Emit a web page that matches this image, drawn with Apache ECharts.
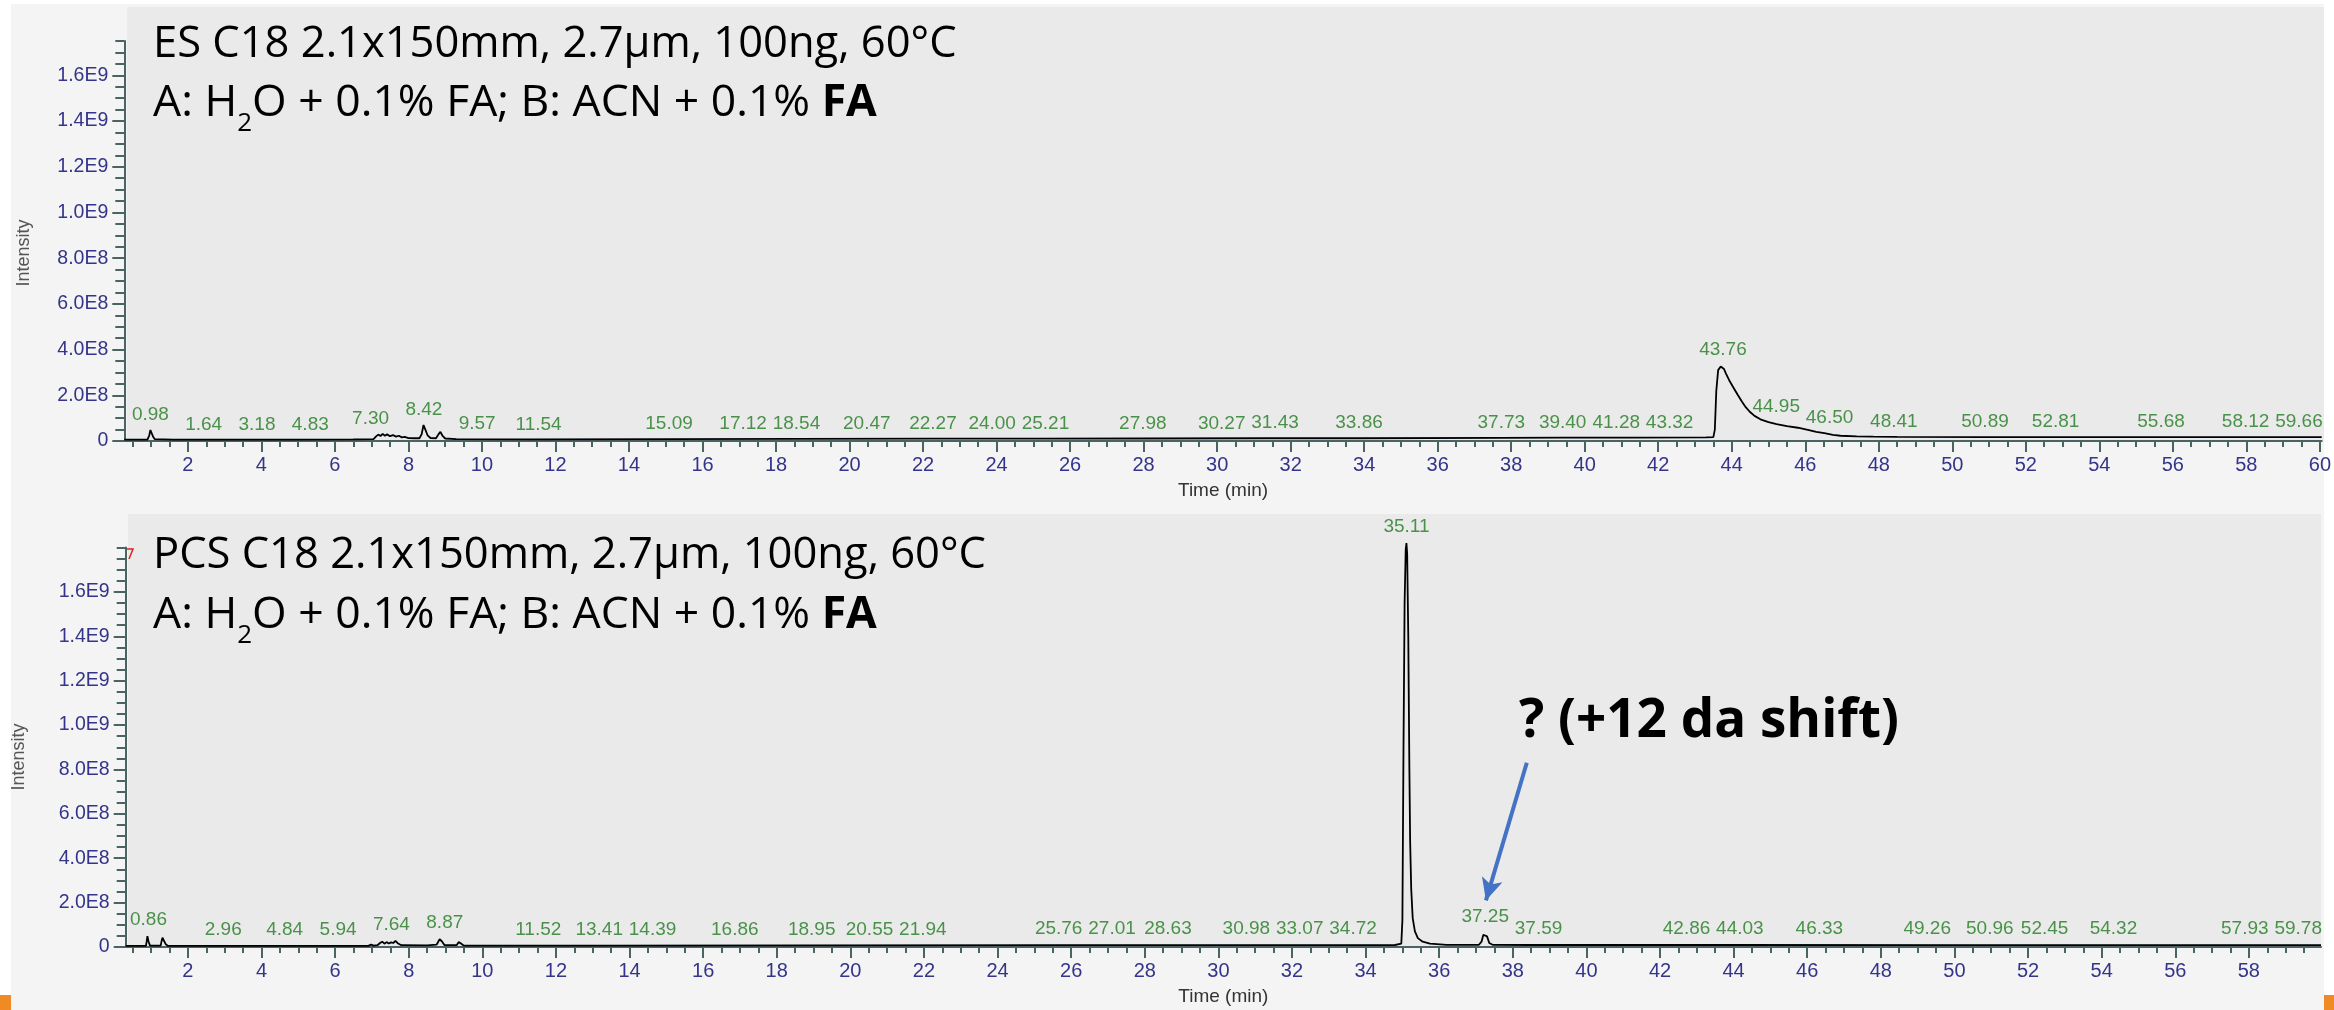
<!DOCTYPE html>
<html><head><meta charset="utf-8">
<script src="https://cdn.jsdelivr.net/npm/echarts@6/dist/echarts.min.js"></script>
<style>html,body{margin:0;padding:0;background:#fff;}#c{width:2334px;height:1010px;}</style>
</head><body><div id="c"></div>
<script>
// ---------- DATA ----------
// ES C18 trace: [time (min), intensity]
const esTrace = [
  [0.27,6e6],[0.9,6e6],[0.95,2.5e7],[0.98,4.8e7],[1.01,3.6e7],[1.05,2e7],[1.1,8e6],[1.6,6e6],[3.2,6e6],[4.8,6e6],
  [6.5,7e6],[7.05,8e6],[7.12,2e7],[7.18,2.8e7],[7.24,2.2e7],[7.3,3.1e7],[7.36,2.3e7],[7.42,2.9e7],[7.5,2.1e7],
  [7.58,2.6e7],[7.66,1.9e7],[7.74,2.3e7],[7.82,1.6e7],[7.9,1.8e7],[8.0,1.3e7],[8.15,1.2e7],[8.3,1.2e7],
  [8.36,3e7],[8.41,7e7],[8.46,5e7],[8.52,2.5e7],[8.6,1.3e7],[8.75,1.2e7],[8.82,3e7],[8.87,4e7],[8.93,2.2e7],
  [9.0,1.1e7],[9.3,8e6],[11.5,7e6],[15.1,8e6],[18.5,9e6],[22.3,1e7],[25.2,1e7],[28,1.1e7],[31.4,1.2e7],
  [33.9,1.2e7],[37.7,1.4e7],[39.4,1.5e7],[41.3,1.5e7],[43.3,1.6e7],[43.5,1.7e7],[43.54,5e7],[43.58,2.2e8],
  [43.63,3.1e8],[43.7,3.26e8],[43.74,3.32e8],[43.79,3.15e8],[43.84,2.96e8],[43.95,2.6e8],[44.06,2.3e8],
  [44.17,2.0e8],[44.28,1.72e8],[44.38,1.48e8],[44.49,1.28e8],[44.62,1.1e8],[44.78,9.5e7],[45.0,8.3e7],
  [45.22,7.4e7],[45.5,6.5e7],[45.8,5.8e7],[46.1,4.8e7],[46.3,4e7],[46.52,3.4e7],[46.75,2.7e7],[46.96,2.3e7],
  [47.4,2e7],[47.86,1.9e7],[48.5,1.8e7],[50.9,1.7e7],[55.7,1.7e7],[60.05,1.7e7]
];
// PCS C18 trace: [time (min), intensity]
const pcsTrace = [
  [0.31,5e6],[0.86,5e6],[0.88,2.5e7],[0.9,4.9e7],[0.93,2.5e7],[0.97,6e6],[1.26,6e6],[1.29,3e7],[1.31,4.2e7],
  [1.35,2.8e7],[1.4,1.2e7],[1.46,5e6],[3,5e6],[5.9,5e6],[6.9,5e6],[6.98,1.1e7],[7.04,6e6],[7.15,8e6],
  [7.22,1.8e7],[7.28,2.4e7],[7.34,1.5e7],[7.4,2.2e7],[7.46,1.6e7],[7.52,2.1e7],[7.58,1.8e7],[7.64,2.8e7],
  [7.7,1.7e7],[7.8,8e6],[8.5,7e6],[8.76,1.1e7],[8.84,3.5e7],[8.9,2.6e7],[8.97,9e6],[9.3,8e6],[9.36,2.2e7],
  [9.42,1.6e7],[9.5,6e6],[13.4,6e6],[18.9,7e6],[25.8,8e6],[31,8e6],[34.8,9e6],[34.97,1.5e7],[35.0,1.2e8],
  [35.03,9e8],[35.06,1.55e9],[35.09,1.79e9],[35.11,1.82e9],[35.13,1.77e9],[35.16,1.4e9],[35.19,8e8],
  [35.21,4.8e8],[35.24,2.6e8],[35.28,1.3e8],[35.34,7e7],[35.42,4e7],[35.55,2.4e7],[35.75,1.5e7],[36.2,1e7],
  [37.08,1e7],[37.15,2.4e7],[37.2,5.5e7],[37.25,6.3e7],[37.3,4.8e7],[37.36,1.8e7],[37.45,1e7],[38.5,9e6],
  [44,9e6],[50,8e6],[54.3,8e6],[59.96,8e6]
];
// peak retention-time labels
const esPeakRT = [0.98,1.64,3.18,4.83,7.30,8.42,9.57,11.54,15.09,17.12,18.54,20.47,22.27,24.00,25.21,27.98,
  30.27,31.43,33.86,37.73,39.40,41.28,43.32,43.76,44.95,46.50,48.41,50.89,52.81,55.68,58.12,59.66];
const pcsPeakRT = [0.86,2.96,4.84,5.94,7.64,8.87,11.52,13.41,14.39,16.86,18.95,20.55,21.94,25.76,27.01,28.63,
  30.98,33.07,34.72,35.11,37.25,37.59,42.86,44.03,46.33,49.26,50.96,52.45,54.32,57.93,59.78];
// axis ranges and tick labels
const esXRange = [0.27, 60.05];
const pcsXRange = [0.31, 59.96];
const esYMax = 1.75e9;
const pcsYMax = 1.8e9;
const esXTicks = [2,4,6,8,10,12,14,16,18,20,22,24,26,28,30,32,34,36,38,40,42,44,46,48,50,52,54,56,58,60];
const pcsXTicks = [2,4,6,8,10,12,14,16,18,20,22,24,26,28,30,32,34,36,38,40,42,44,46,48,50,52,54,56,58];
const yTicks = [0,2e8,4e8,6e8,8e8,1e9,1.2e9,1.4e9,1.6e9];
// annotation arrow (data coordinates on the PCS panel): from, to
const arrowFrom = [38.38, 8.3e8];
const arrowTo = [37.27, 2.1e8];

// ---------- helpers ----------
function minorTicks(lo, hi, step, majors) {
  const out = [];
  for (let v = Math.ceil(lo / step) * step; v <= hi + 1e-9; v += step) {
    const r = Math.round(v * 1000) / 1000;
    if (!majors.some(m => Math.abs(m - r) < 1e-6)) out.push(r);
  }
  return out;
}
function interp(trace, t) {
  for (let i = 0; i < trace.length - 1; i++) {
    const a = trace[i], b = trace[i + 1];
    if (t >= a[0] && t <= b[0]) return a[1] + (b[1] - a[1]) * (t - a[0]) / (b[0] - a[0]);
  }
  return trace[trace.length - 1][1];
}
function peakLabels(trace, rts, range) {
  const halfW = 0.62, sep = 1.45;
  const apex = rts.map(rt => {
    let m = interp(trace, rt);
    trace.forEach(p => { if (Math.abs(p[0] - rt) <= 0.08) m = Math.max(m, p[1]); });
    return m;
  });
  const xs = rts.slice();
  for (let it = 0; it < 400; it++) {
    let moved = false;
    for (let i = 0; i < xs.length - 1; i++) {
      const d = xs[i + 1] - xs[i];
      if (d < sep - 1e-6) {
        const need = sep - d, a = apex[i], b = apex[i + 1];
        if (a > 1.5 * b) xs[i + 1] += need;
        else if (b > 1.5 * a) xs[i] -= need;
        else { xs[i] -= need / 2; xs[i + 1] += need / 2; }
        moved = true;
      }
    }
    for (let i = 0; i < xs.length; i++) xs[i] = Math.min(Math.max(xs[i], range[0] + halfW), range[1] - halfW);
    if (!moved) break;
  }
  return rts.map((rt, i) => ({ name: rt.toFixed(2), value: [xs[i], apex[i]] }));
}
function sci(v) {
  if (v === 0) return '0';
  const e = Math.floor(Math.log10(v) + 1e-9);
  return (v / Math.pow(10, e)).toFixed(1) + 'E' + e;
}

// ---------- styles ----------
const AXIS_COL = '#4a6464';
const LABEL_COL = '#34348a';
const PEAK_COL = '#217a21';
const FONT = 'Liberation Sans, Arial, sans-serif';
const TITLE_FONT = 'Open Sans';

function xAxes(grid, range, ticks) {
  return [
    { gridIndex: grid, type: 'value', position: 'bottom', min: range[0], max: range[1],
      axisLine: { lineStyle: { color: AXIS_COL, width: 2 } },
      axisTick: { customValues: ticks, length: 11, lineStyle: { color: AXIS_COL, width: 2 } },
      axisLabel: { customValues: ticks, color: LABEL_COL, fontSize: 20, fontFamily: FONT, margin: 14 },
      splitLine: { show: false },
      name: 'Time (min)', nameLocation: 'middle', nameGap: 40,
      nameTextStyle: { color: '#333', fontSize: 19, fontFamily: FONT } },
    { gridIndex: grid, type: 'value', position: 'bottom', min: range[0], max: range[1],
      axisLine: { show: false },
      axisTick: { customValues: minorTicks(range[0], range[1], 0.5, ticks), length: 6, lineStyle: { color: AXIS_COL, width: 2 } },
      axisLabel: { show: false }, splitLine: { show: false } }
  ];
}
function yAxes(grid, max) {
  return [
    { gridIndex: grid, type: 'value', position: 'left', min: 0, max: max,
      axisLine: { show: true, lineStyle: { color: AXIS_COL, width: 2 } },
      axisTick: { show: true, customValues: yTicks, length: 12, lineStyle: { color: AXIS_COL, width: 2 } },
      axisLabel: { customValues: yTicks, color: LABEL_COL, fontSize: 19.5, fontFamily: FONT, margin: 16, formatter: sci },
      splitLine: { show: false } },
    { gridIndex: grid, type: 'value', position: 'left', min: 0, max: max,
      axisLine: { show: false },
      axisTick: { show: true, customValues: minorTicks(0, max, 5e7, yTicks), length: 9, lineStyle: { color: AXIS_COL, width: 2 } },
      axisLabel: { show: false }, splitLine: { show: false } }
  ];
}
function labelSeries(xi, yi, data, dist) {
  return { type: 'scatter', xAxisIndex: xi, yAxisIndex: yi, data: data, symbolSize: 1, silent: true,
    itemStyle: { color: 'rgba(0,0,0,0)' }, z: 5, clip: false,
    label: { show: true, position: 'top', distance: dist, formatter: '{b}', color: PEAK_COL,
      fontSize: 19, fontFamily: FONT } };
}

const titleRich = {
  a: { fontSize: 44.5, fontFamily: TITLE_FONT, fill: '#000', lineHeight: 68 },
  s: { fontSize: 26, fontFamily: TITLE_FONT, fill: '#000', lineHeight: 26, verticalAlign: 'bottom' },
  b: { fontSize: 44.5, fontFamily: TITLE_FONT, fontWeight: 'bold', fill: '#000', lineHeight: 68 }
};
const line2 = '{a|A: H}{s|2}{a|O + 0.1% FA; B: ACN + 0.1% }{b|FA}';

const chart = echarts.init(document.getElementById('c'), null, { renderer: 'canvas' });
chart.setOption({
  animation: false,
  backgroundColor: '#ffffff',
  grid: [
    { left: 124.3, top: 41, width: 2199.7, height: 400 },
    { left: 125.7, top: 547.5, width: 2195.3, height: 399.5 }
  ],
  xAxis: xAxes(0, esXRange, esXTicks).concat(xAxes(1, pcsXRange, pcsXTicks)),
  yAxis: yAxes(0, esYMax).concat(yAxes(1, pcsYMax)),
  graphic: [
    { type: 'rect', z: -10, silent: true, shape: { x: 11, y: 4, width: 2313, height: 1006 }, style: { fill: '#f4f4f4' } },
    { type: 'rect', z: -9, silent: true, shape: { x: 127, y: 7, width: 2197, height: 434 }, style: { fill: '#eaeaea' } },
    { type: 'rect', z: -9, silent: true, shape: { x: 128, y: 514, width: 2193, height: 433 }, style: { fill: '#eaeaea' } },
    { type: 'rect', silent: true, shape: { x: 0, y: 995, width: 11, height: 15 }, style: { fill: '#f08a24' } },
    { type: 'rect', silent: true, shape: { x: 2324, y: 995, width: 10, height: 15 }, style: { fill: '#f08a24' } },
    { type: 'polyline', silent: true, shape: { points: [[127, 549], [133, 549], [129, 559]] }, style: { stroke: '#e02020', lineWidth: 1.5, fill: null } },
    { type: 'text', silent: true, x: 24, y: 253, rotation: Math.PI / 2,
      style: { text: 'Intensity', fontSize: 18, fontFamily: FONT, fill: '#555', align: 'center', verticalAlign: 'middle' } },
    { type: 'text', silent: true, x: 19, y: 757, rotation: Math.PI / 2,
      style: { text: 'Intensity', fontSize: 18, fontFamily: FONT, fill: '#555', align: 'center', verticalAlign: 'middle' } },
    { type: 'text', silent: true, x: 153, y: 45,
      style: { text: 'ES C18 2.1x150mm, 2.7\u00b5m, 100ng, 60\u00b0C', fontSize: 43.5, fontFamily: TITLE_FONT, fill: '#000', verticalAlign: 'middle' } },
    { type: 'text', silent: true, x: 153, y: 103,
      style: { text: line2, rich: titleRich, verticalAlign: 'middle' } },
    { type: 'text', silent: true, x: 153, y: 556,
      style: { text: 'PCS C18 2.1x150mm, 2.7\u00b5m, 100ng, 60\u00b0C', fontSize: 43.5, fontFamily: TITLE_FONT, fill: '#000', verticalAlign: 'middle' } },
    { type: 'text', silent: true, x: 153, y: 615,
      style: { text: line2, rich: titleRich, verticalAlign: 'middle' } },
    { type: 'text', silent: true, x: 1519, y: 722,
      style: { text: '? (+12 da shift)', fontSize: 53, fontWeight: 'bold', fontFamily: TITLE_FONT, fill: '#000', verticalAlign: 'middle' } }
  ],
  series: [
    { type: 'line', xAxisIndex: 0, yAxisIndex: 0, data: esTrace, showSymbol: false, symbol: 'none', silent: true,
      lineStyle: { color: '#000', width: 1.8 }, z: 4 },
    labelSeries(0, 0, peakLabels(esTrace, esPeakRT, esXRange), 5),
    { type: 'line', xAxisIndex: 2, yAxisIndex: 2, data: pcsTrace, showSymbol: false, symbol: 'none', silent: true,
      clip: false, lineStyle: { color: '#000', width: 1.8 }, z: 4,
      markLine: { silent: true, symbol: ['none', 'arrow'], symbolSize: [16, 22], label: { show: false },
        lineStyle: { color: '#4472c4', width: 4, type: 'solid' },
        data: [[{ coord: arrowFrom }, { coord: arrowTo }]] } },
    labelSeries(2, 2, peakLabels(pcsTrace, pcsPeakRT, pcsXRange), 6)
  ]
});
</script></body></html>
